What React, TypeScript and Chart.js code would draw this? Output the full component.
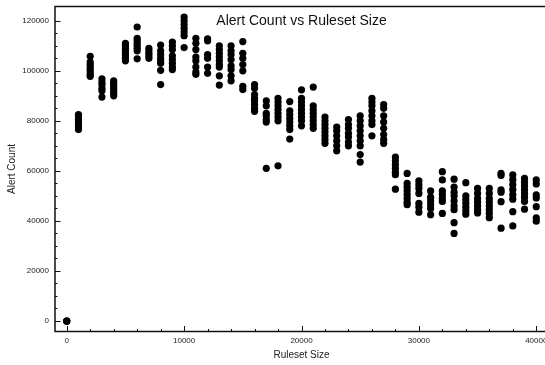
import React, { useEffect, useRef } from "react";
import { Chart, registerables } from "chart.js";

Chart.register(...registerables);

const rulesetSizes: number[] = [
  0, 1000, 2000, 3000, 4000, 5000, 6000, 7000, 8000, 9000, 10000,
  11000, 12000, 13000, 14000, 15000, 16000, 17000, 18000, 19000, 20000,
  21000, 22000, 23000, 24000, 25000, 26000, 27000, 28000, 29000, 30000,
  31000, 32000, 33000, 34000, 35000, 36000, 37000, 38000, 39000, 40000,
];

const alertCounts: number[][] = [
  [0, 0, 0],
  [76500, 77500, 78500, 79500, 80500, 81500, 82500],
  [105800, 103500, 102500, 101500, 100500, 99500, 98500, 97800],
  [96800, 95500, 94500, 93000, 92000, 89500],
  [96000, 95000, 94000, 93000, 92000, 91000, 90000],
  [111000, 110000, 109000, 108000, 107000, 106000, 105000, 104000],
  [117500, 113000, 112000, 111000, 110000, 109000, 108000, 104800],
  [109000, 108000, 107000, 106000, 105000],
  [110300, 108000, 106500, 105000, 104000, 103000, 100200, 94500],
  [111500, 110000, 108500, 106000, 104500, 103000, 101500, 100500],
  [121500, 120000, 118500, 117000, 115500, 114000, 109300],
  [113000, 111000, 108500, 105500, 104000, 101500, 99500, 98600],
  [112800, 112000, 106500, 105000, 101500, 99000],
  [110000, 108500, 107000, 105500, 104000, 102500, 101500, 98000, 94300],
  [110000, 108000, 106500, 104500, 102000, 100500, 98000, 96000],
  [111700, 107000, 105000, 102500, 100000, 93800, 92500],
  [94500, 93000, 90500, 89000, 88000, 86500, 85000, 83800],
  [88000, 86000, 83000, 82000, 80500, 79500, 61000],
  [89000, 87500, 86000, 84500, 83000, 81500, 80000, 62000],
  [87700, 84000, 82500, 81000, 79500, 78000, 76500, 72700],
  [92400, 89000, 87500, 86000, 84500, 83000, 81500, 80000, 78000],
  [93500, 86000, 84500, 83000, 81500, 80000, 78500, 77000],
  [81500, 80000, 78500, 77000, 75500, 74000, 72500, 71000],
  [77500, 76000, 74000, 72000, 70000, 68000],
  [80500, 78500, 77000, 75000, 73500, 71500, 70000],
  [82000, 80000, 78000, 76000, 74000, 72000, 70000, 66500, 63500],
  [89000, 87500, 86000, 84000, 82000, 80000, 78500, 74000],
  [86500, 85000, 82000, 79500, 77000, 74500, 72500, 71000],
  [65500, 64000, 62500, 61000, 59500, 58500, 52700],
  [59000, 55000, 53500, 52000, 50500, 49000, 47500, 46500],
  [56000, 54500, 53000, 51000, 47000, 45500, 43500],
  [52000, 49500, 48000, 46500, 45000, 42500],
  [59700, 56400, 52000, 50500, 49000, 47800, 43000],
  [56700, 53500, 51500, 50000, 48000, 46000, 44500, 39300, 35000],
  [55300, 50000, 48500, 47000, 45500, 44000, 42700],
  [53000, 51000, 49000, 47500, 46000, 44500, 43200],
  [53000, 51000, 49000, 47500, 46000, 44500, 43000, 41300],
  [59000, 58200, 52400, 51500, 47700, 37100],
  [58400, 56500, 54500, 52500, 50500, 48700, 43700, 38000],
  [57000, 55500, 54000, 52500, 51000, 49500, 47800, 44700],
  [56400, 54800, 50400, 49200, 45700, 41200, 39900],
];

const chartTitle = "Alert Count vs Ruleset Size";
const xAxisTitle = "Ruleset Size";
const yAxisTitle = "Alert Count";

const xTickValues: number[] = [];
for (let v = 0; v <= 40000; v += 2000) xTickValues.push(v);
const yTickValues: number[] = [];
for (let v = 0; v <= 120000; v += 5000) yTickValues.push(v);
const xLabelStep = 10000;
const yLabelStep = 20000;

const FONT = "'Liberation Sans', Arial, Helvetica, sans-serif";

const framePlugin = {
  id: "framePlugin",
  afterDraw(chart: any) {
    const { ctx, chartArea: ca, scales } = chart;
    const xs = scales.x;
    const ys = scales.y;
    ctx.save();
    ctx.strokeStyle = "#111";
    ctx.lineWidth = 1.5;
    ctx.beginPath();
    ctx.moveTo(ca.right, ca.top);
    ctx.lineTo(ca.left, ca.top);
    ctx.lineTo(ca.left, ca.bottom);
    ctx.lineTo(ca.right, ca.bottom);
    ctx.lineTo(ca.right, ca.top);
    ctx.stroke();
    ctx.lineWidth = 1;
    ctx.beginPath();
    for (const v of xTickValues) {
      const px = Math.round(xs.getPixelForValue(v)) + 0.5;
      const len = v % xLabelStep === 0 ? 5.5 : 2.5;
      ctx.moveTo(px, ca.bottom);
      ctx.lineTo(px, ca.bottom - len);
    }
    for (const v of yTickValues) {
      const py = Math.round(ys.getPixelForValue(v)) + 0.5;
      const len = v % yLabelStep === 0 ? 5.5 : 2.5;
      ctx.moveTo(ca.left, py);
      ctx.lineTo(ca.left + len, py);
    }
    ctx.stroke();
    ctx.fillStyle = "#111";
    ctx.font = `14px ${FONT}`;
    ctx.textAlign = "center";
    ctx.textBaseline = "middle";
    ctx.fillText(chartTitle, (ca.left + ca.right) / 2, 21);
    ctx.restore();
  },
};

export default function App() {
  const canvasRef = useRef<HTMLCanvasElement | null>(null);

  useEffect(() => {
    document.body.style.margin = "0";
    document.body.style.overflow = "hidden";
    const canvas = canvasRef.current;
    if (!canvas) return;
    const points: { x: number; y: number }[] = [];
    rulesetSizes.forEach((s, i) => {
      for (const c of alertCounts[i]) points.push({ x: s, y: c });
    });
    const chart = new Chart(canvas, {
      type: "scatter",
      data: {
        datasets: [
          {
            data: points,
            pointRadius: 3.6,
            pointHoverRadius: 3.6,
            pointBackgroundColor: "#000",
            pointBorderWidth: 0,
            borderColor: "#000",
          },
        ],
      },
      options: {
        animation: false,
        responsive: false,
        maintainAspectRatio: false,
        events: [],
        layout: { padding: { top: 6.5, right: 12, left: 0, bottom: 0 } },
        plugins: {
          legend: { display: false },
          title: { display: false },
          tooltip: { enabled: false },
        },
        scales: {
          x: {
            type: "linear",
            min: -1000,
            max: 41000,
            grid: { display: false, drawTicks: false },
            border: { display: false },
            afterFit: (scale: any) => {
              scale.height = 33.5;
            },
            afterBuildTicks: (scale: any) => {
              scale.ticks = xTickValues.map((v) => ({ value: v }));
            },
            ticks: {
              autoSkip: false,
              maxRotation: 0,
              padding: 4,
              color: "#222",
              font: { size: 8, family: FONT },
              callback: (value: any) =>
                Number(value) % xLabelStep === 0 ? String(value) : "",
            },
            title: {
              display: true,
              text: xAxisTitle,
              color: "#222",
              font: { size: 10, family: FONT },
              padding: { top: 0, bottom: 4 },
            },
          },
          y: {
            type: "linear",
            min: -4200,
            max: 125700,
            grid: { display: false, drawTicks: false },
            border: { display: false },
            afterFit: (scale: any) => {
              scale.width = 55;
              scale.paddingTop = 0;
              scale.paddingBottom = 0;
            },
            afterBuildTicks: (scale: any) => {
              scale.ticks = yTickValues.map((v) => ({ value: v }));
            },
            ticks: {
              autoSkip: false,
              padding: 6,
              color: "#222",
              font: { size: 8, family: FONT },
              callback: (value: any) =>
                Number(value) % yLabelStep === 0 ? String(value) : "",
            },
            title: {
              display: true,
              text: yAxisTitle,
              color: "#222",
              font: { size: 10, family: FONT },
              padding: { top: 6, bottom: 0 },
            },
          },
        },
      },
      plugins: [framePlugin],
    });
    return () => chart.destroy();
  }, []);

  return (
    <div style={{ width: 545, height: 365, overflow: "hidden", position: "relative" }}>
      <canvas
        ref={canvasRef}
        width={560}
        height={365}
        style={{ display: "block", width: 560, height: 365 }}
      />
    </div>
  );
}
